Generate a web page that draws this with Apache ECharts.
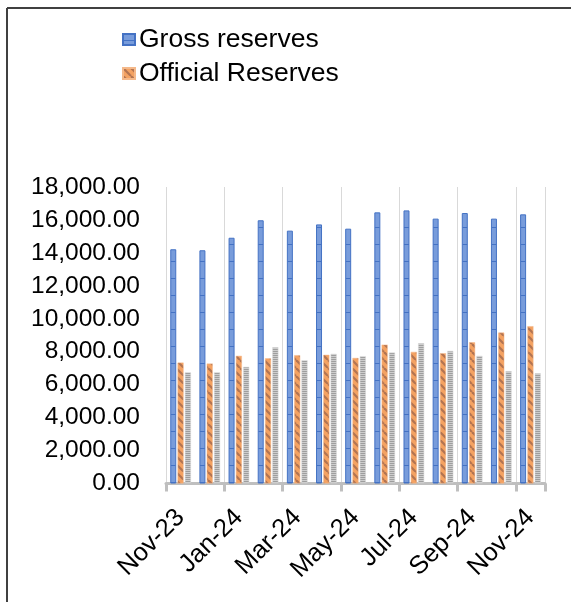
<!DOCTYPE html>
<html>
<head>
<meta charset="utf-8">
<style>
  html, body { margin: 0; padding: 0; background: #fff; }
  #chart { width: 571px; height: 602px; }
</style>
<script src="https://cdn.jsdelivr.net/npm/echarts@6/dist/echarts.min.js"></script>
</head>
<body>
<div id="chart"></div>
<script>
// Monthly reserves, Nov-23 to Nov-24
const months = ['Nov-23', 'Dec-23', 'Jan-24', 'Feb-24', 'Mar-24', 'Apr-24', 'May-24',
                'Jun-24', 'Jul-24', 'Aug-24', 'Sep-24', 'Oct-24', 'Nov-24'];
const grossReserves = [14220, 14160, 14920, 15980, 15350, 15730, 15470,
                       16460, 16580, 16080, 16420, 16080, 16340];
const officialReserves = [7340, 7280, 7750, 7600, 7790, 7810, 7620,
                          8430, 7990, 7910, 8570, 9160, 9550];
const netReserves = [6750, 6750, 7080, 8270, 7480, 7870, 7730,
                     7950, 8510, 8050, 7750, 6820, 6690];
const yTicks = { min: 0, max: 18000, interval: 2000 };

// Fill patterns for the three series
function makePattern(w, h, draw) {
  const c = document.createElement('canvas');
  c.width = w; c.height = h;
  draw(c.getContext('2d'), w, h);
  return { image: c, repeat: 'repeat' };
}
const bluePattern = makePattern(4, 17, (ctx, w, h) => {
  ctx.fillStyle = '#789cdb';
  ctx.fillRect(0, 0, w, h);
  ctx.fillStyle = '#4472c4';
  ctx.fillRect(0, 6, w, 1);
});
const orangePattern = makePattern(8, 8, (ctx, w, h) => {
  ctx.fillStyle = '#f4a262';
  ctx.fillRect(0, 0, w, h);
  ctx.strokeStyle = '#b27452';
  ctx.lineWidth = 2.2;
  for (let k = -1; k <= 1; k++) {
    ctx.beginPath();
    ctx.moveTo(k * w, 0);
    ctx.lineTo(k * w + w, h);
    ctx.stroke();
  }
});
const grayPattern = makePattern(2, 2, (ctx, w, h) => {
  ctx.fillStyle = '#cdcdcd';
  ctx.fillRect(0, 0, w, h);
  ctx.fillStyle = '#9e9e9e';
  ctx.fillRect(0, 1, w, 1);
});

const fontFamily = '"Liberation Sans", Arial, sans-serif';
const chart = echarts.init(document.getElementById('chart'), null, { renderer: 'canvas' });

chart.setOption({
  animation: false,
  backgroundColor: '#fff',
  graphic: [
    { type: 'line', shape: { x1: 7, y1: 8, x2: 571, y2: 8 }, style: { stroke: '#404040', lineWidth: 2 } },
    { type: 'line', shape: { x1: 7, y1: 8, x2: 7, y2: 602 }, style: { stroke: '#404040', lineWidth: 2 } }
  ],
  legend: {
    data: ['Gross reserves', 'Official Reserves'],
    orient: 'vertical',
    left: 117,
    top: 21,
    itemWidth: 12,
    itemHeight: 11,
    itemGap: 7,
    icon: 'rect',
    textStyle: { fontFamily, fontSize: 26.5, color: '#000', padding: [0, 0, 0, -1] }
  },
  grid: { left: 166, right: 26, top: 187, bottom: 118.5, containLabel: false },
  xAxis: {
    type: 'category',
    data: months,
    axisLine: { lineStyle: { color: '#bfbfbf', width: 3 } },
    axisTick: { show: true, interval: 1, length: 8, lineStyle: { color: '#bfbfbf', width: 3 } },
    splitLine: { show: true, interval: 1, lineStyle: { color: '#d9d9d9', width: 1 } },
    axisLabel: {
      interval: 1,
      rotate: 45,
      margin: 30,
      fontFamily,
      fontSize: 25.5,
      color: '#000'
    }
  },
  yAxis: {
    type: 'value',
    min: yTicks.min,
    max: yTicks.max,
    interval: yTicks.interval,
    axisLine: { show: false },
    axisTick: { show: false },
    splitLine: { show: false },
    axisLabel: {
      margin: 26,
      fontFamily,
      fontSize: 24.5,
      color: '#000',
      formatter: v => v.toLocaleString('en-US', { minimumFractionDigits: 2, maximumFractionDigits: 2 })
    }
  },
  series: [
    {
      name: 'Gross reserves',
      type: 'bar',
      data: grossReserves,
      barWidth: 6,
      barGap: '22%',
      itemStyle: { color: bluePattern, borderColor: '#4472c4', borderWidth: 1 }
    },
    {
      name: 'Official Reserves',
      type: 'bar',
      data: officialReserves,
      barWidth: 6,
      barGap: '22%',
      itemStyle: { color: orangePattern, borderColor: '#f5b98a', borderWidth: 0.5 }
    },
    {
      name: 'Net reserves',
      type: 'bar',
      data: netReserves,
      barWidth: 6,
      barGap: '22%',
      itemStyle: { color: grayPattern, borderColor: '#d6d6d6', borderWidth: 0.5 }
    }
  ]
});
</script>
</body>
</html>
